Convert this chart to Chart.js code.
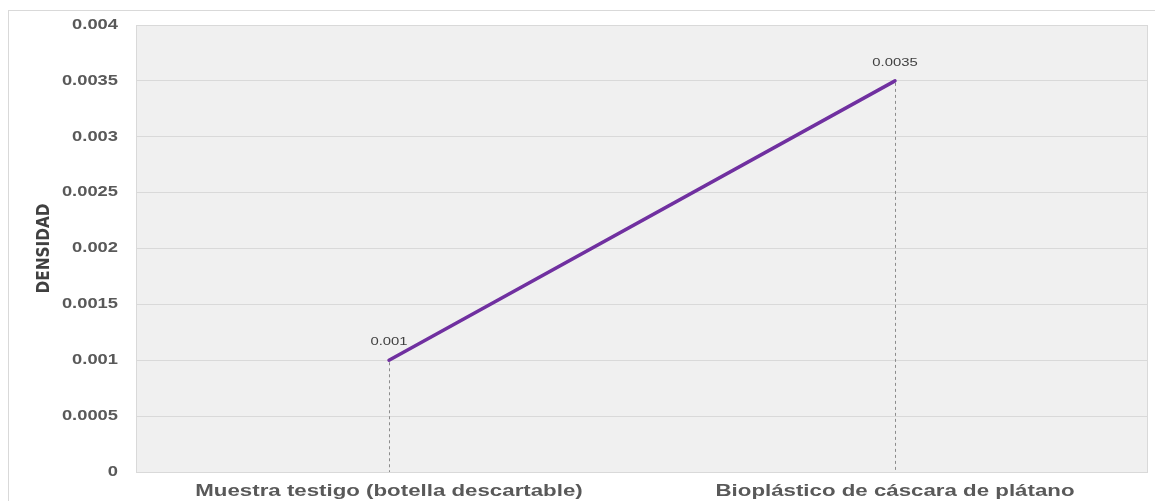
<!DOCTYPE html>
<html>
<head>
<meta charset="utf-8">
<script src="https://cdn.jsdelivr.net/npm/chart.js@4/dist/chart.umd.min.js"></script>
<style>
  html, body { margin: 0; padding: 0; background: #fff; }
  #wrap { width: 1155px; height: 501px; }
</style>
</head>
<body>
<div id="wrap"><canvas id="chart" width="1155" height="501"></canvas></div>
<script>
// data
const categories = ['Muestra testigo (botella descartable)', 'Bioplástico de cáscara de plátano'];
const densidad = [0.001, 0.0035];
const yTicks = [0, 0.0005, 0.001, 0.0015, 0.002, 0.0025, 0.003, 0.0035, 0.004];

const fmt = v => String(Number(v.toFixed(4)));
const sans = '"Liberation Sans", Arial, sans-serif';

// the source picture is stretched sideways, so text is drawn wider than normal
function wideText(ctx, text, x, y, font, color, sx, align) {
  ctx.save();
  ctx.font = font;
  ctx.fillStyle = color;
  ctx.textBaseline = 'middle';
  ctx.textAlign = align;
  ctx.translate(x, y);
  ctx.scale(sx, 1);
  ctx.fillText(text, 0, 0);
  ctx.restore();
}

// frame, plot background, drop lines, tick and value labels
const decor = {
  id: 'decor',
  beforeDraw(chart) {
    const { ctx, chartArea: a } = chart;
    ctx.save();
    ctx.fillStyle = '#fff';
    ctx.fillRect(0, 0, chart.width, chart.height);
    ctx.strokeStyle = '#d9d9d9';
    ctx.lineWidth = 1;
    ctx.strokeRect(8.5, 10.5, chart.width, chart.height);
    ctx.fillStyle = '#f0f0f0';
    ctx.fillRect(a.left, a.top, a.right - a.left, a.bottom - a.top);
    ctx.restore();
  },
  afterDraw(chart) {
    const { ctx, chartArea: a, scales } = chart;
    ctx.save();
    ctx.strokeStyle = '#d9d9d9';
    ctx.lineWidth = 1;
    ctx.strokeRect(a.left + 0.5, a.top + 0.5, a.right - a.left - 1, a.bottom - a.top);
    ctx.restore();
    scales.y.ticks.forEach(t => {
      wideText(ctx, fmt(t.value), a.left - 18, scales.y.getPixelForValue(t.value),
        'bold 14px ' + sans, '#595959', 1.31, 'right');
    });
    categories.forEach((c, i) => {
      wideText(ctx, c, scales.x.getPixelForValue(i), a.bottom + 19,
        'bold 16.5px ' + sans, '#595959', 1.35, 'center');
    });
  },
  afterDatasetsDraw(chart) {
    const { ctx } = chart;
    const meta = chart.getDatasetMeta(0);
    const yBottom = chart.scales.y.getPixelForValue(0);
    meta.data.forEach((pt, i) => {
      const x = Math.round(pt.x) + 0.5;
      ctx.save();
      ctx.strokeStyle = '#8c8c8c';
      ctx.lineWidth = 1;
      ctx.setLineDash([3, 3]);
      ctx.beginPath();
      ctx.moveTo(x, pt.y + 2);
      ctx.lineTo(x, yBottom);
      ctx.stroke();
      ctx.restore();
      wideText(ctx, fmt(densidad[i]), pt.x, pt.y - 18, '11px ' + sans, '#404040', 1.35, 'center');
    });
  }
};

new Chart(document.getElementById('chart'), {
  type: 'line',
  data: {
    labels: categories,
    datasets: [{
      label: 'DENSIDAD',
      data: densidad,
      borderColor: '#7030a0',
      borderWidth: 3.5,
      pointRadius: 0,
      borderCapStyle: 'round',
      tension: 0
    }]
  },
  options: {
    responsive: false,
    animation: false,
    layout: { padding: { left: 34, top: 25, right: 7, bottom: 0 } },
    plugins: { legend: { display: false }, tooltip: { enabled: false } },
    scales: {
      x: {
        offset: true,
        grid: { display: false, drawTicks: false },
        border: { display: false },
        ticks: { display: false },
        afterFit(scale) { scale.height = 29; }
      },
      y: {
        min: 0,
        max: 0.004,
        afterBuildTicks(scale) { scale.ticks = yTicks.map(v => ({ value: v })); },
        grid: { color: '#d9d9d9', drawTicks: false },
        border: { display: false },
        ticks: { display: false },
        title: {
          display: true,
          text: 'DENSIDAD',
          color: '#404040',
          padding: 0,
          font: { family: '"Liberation Sans Narrow", "DejaVu Sans Condensed", Arial, sans-serif', size: 17, weight: 'bold' }
        },
        afterFit(scale) { scale.width = 102; }
      }
    }
  },
  plugins: [decor]
});
</script>
</body>
</html>
